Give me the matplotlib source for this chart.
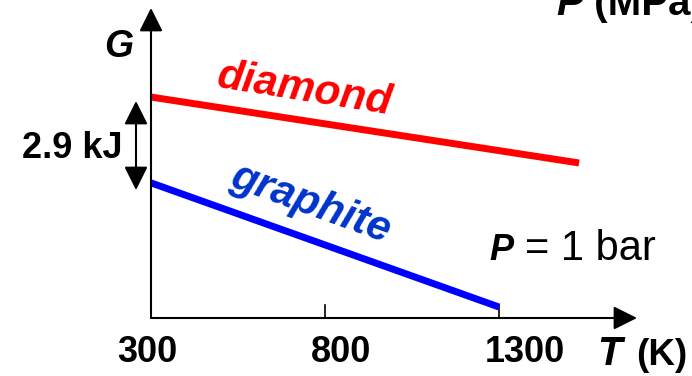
import matplotlib
matplotlib.use('Agg')
import matplotlib.pyplot as plt

plt.rcParams['font.family'] = ['Liberation Sans', 'DejaVu Sans']

# data (T in K, G in kJ relative to an arbitrary zero)
t_diamond = [300, 1530]
g_diamond = [7.44, 5.22]
t_graphite = [300, 1300]
g_graphite = [4.55, 0.37]
tick_values = [300, 800, 1300]
tick_labels = ['300', '800', '1300']
gap_label = '2.9 kJ'

# pixel layout helpers (figure is 692 x 376 px)
W, H = 692, 376
kx = 0.348   # px per K
ky = 29.7    # px per kJ
ox, oy = 151, 318   # pixel position of (300 K, 0)

def X(px):
    return 300 + (px - ox) / kx

def Y(py):
    return (oy - py) / ky

fig = plt.figure(figsize=(W / 100, H / 100), dpi=100)
ax = fig.add_axes([0, 0, 1, 1])
ax.set_xlim(X(0), X(W))
ax.set_ylim(Y(H), Y(0))
ax.axis('off')

# axes with arrow heads
arr = dict(arrowstyle='-|>,head_length=1.0,head_width=0.5', mutation_scale=14.4,
           lw=1.5, color='k', shrinkA=0, shrinkB=0)
ax.annotate('', xy=(X(637), 0), xytext=(300, 0), arrowprops=arr)
ax.annotate('', xy=(300, Y(8)), xytext=(300, 0), arrowprops=arr)

# ticks
for t in tick_values[1:]:
    ax.plot([t, t], [0, Y(305)], color='k', lw=1.2)

label_px = [147, 341, 525]
for lab, p in zip(tick_labels, label_px):
    ax.text(X(p), Y(352), lab, ha='center', va='center', fontsize=26, fontweight='bold')

# lines
ax.plot(t_diamond, g_diamond, color='#ff0000', lw=5, solid_capstyle='butt')
ax.plot(t_graphite, g_graphite, color='#0000ff', lw=5, solid_capstyle='butt')

ax.text(X(305), Y(90), 'diamond', color='#ff0000', fontsize=30.5, fontweight='bold',
        fontstyle='italic', rotation=-9, rotation_mode='anchor', ha='center', va='center')
ax.text(X(311), Y(204), 'graphite', color='#0033cc', fontsize=30.5, fontweight='bold',
        fontstyle='italic', rotation=-20, rotation_mode='anchor', ha='center', va='center')

# gap arrow
ax.annotate('', xy=(X(136), Y(101)), xytext=(X(136), Y(190)),
            arrowprops=dict(arrowstyle='<|-|>,head_length=1.0,head_width=0.5',
                            mutation_scale=14.4, lw=1.5, color='k', shrinkA=0, shrinkB=0))
ax.text(X(72), Y(148), gap_label, ha='center', va='center', fontsize=26, fontweight='bold')

# axis labels
ax.text(X(119), Y(47), 'G', ha='center', va='center', fontsize=27, fontweight='bold',
        fontstyle='italic')
ax.text(X(597), Y(365), 'T', ha='left', va='baseline', fontsize=29, fontweight='bold',
        fontstyle='italic')
ax.text(X(636), Y(365), '(K)', ha='left', va='baseline', fontsize=26.5, fontweight='bold')

ax.text(X(489), Y(260), 'P', ha='left', va='baseline', fontsize=26, fontweight='bold',
        fontstyle='italic')
ax.text(X(525), Y(260), '= 1 bar', ha='left', va='baseline', fontsize=30)

pm = ax.text(X(556), Y(15), 'P', ha='left', va='baseline', fontsize=29, fontweight='bold',
             fontstyle='italic')
ax.annotate(' (MPa)', xy=(1, 0), xycoords=pm, ha='left', va='bottom', fontsize=29,
            fontweight='bold')

fig.savefig('out.png', dpi=100)
